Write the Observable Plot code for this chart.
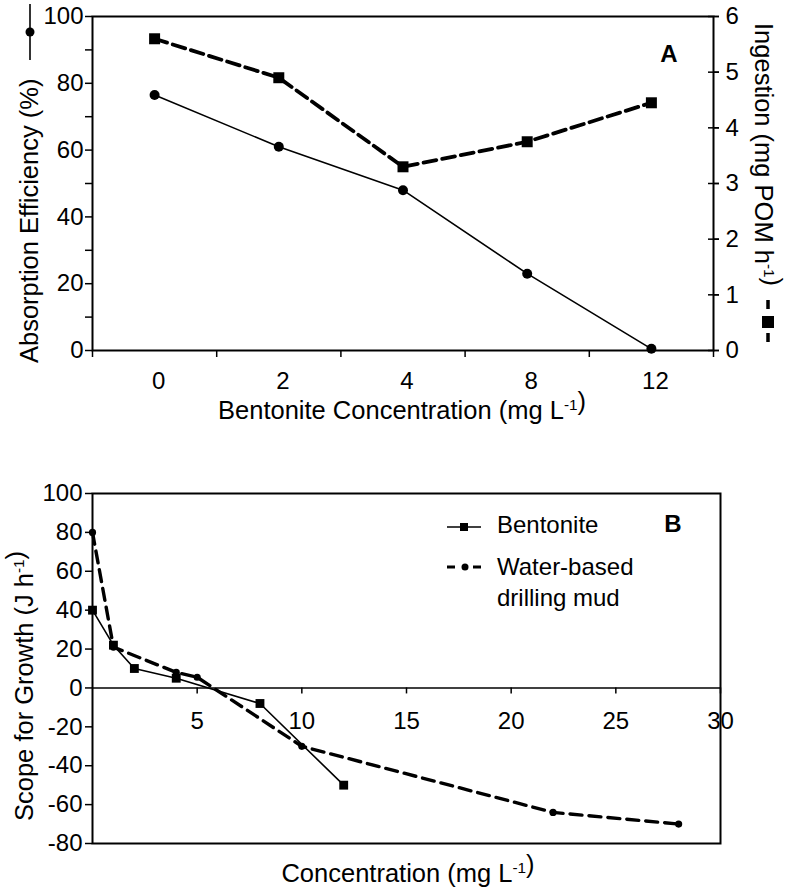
<!DOCTYPE html>
<html><head><meta charset="utf-8">
<script src="https://cdn.jsdelivr.net/npm/d3@7"></script>
<script src="https://cdn.jsdelivr.net/npm/@observablehq/plot@0.6"></script>
<style>
body{margin:0;background:#fff;width:786px;height:890px;position:relative;overflow:hidden;font-family:"Liberation Sans",Arial,sans-serif}
#a{position:absolute;left:0;top:0}
#b{position:absolute;left:0;top:430px}
svg{overflow:visible}
</style></head><body><div id="a"></div><div id="b"></div>
<script>
// ---------- Panel A data ----------
const concA = ["0", "2", "4", "8", "12"];           // bentonite concentration (mg/L), categorical
const absorptionA = [76.5, 61, 48, 23, 0.5];         // absorption efficiency (%)
const ingestionA = [5.6, 4.9, 3.3, 3.75, 4.45];      // ingestion (mg POM/h)
const yTicksA = [0, 20, 40, 60, 80, 100];
const yMinorA = [10, 30, 50, 70, 90];
const ingTicksA = [0, 1, 2, 3, 4, 5, 6];

// ---------- Panel B data ----------
const bentX = [0, 1, 2, 4, 8, 12];
const bentY = [40, 22, 10, 5, -8, -50];
const mudX = [0, 1, 4, 5, 10, 22, 28];
const mudY = [80, 21, 8, 5.5, -30, -64, -70];
const yTicksB = [-80, -60, -40, -20, 0, 20, 40, 60, 80, 100];
const xTicksB = [5, 10, 15, 20, 25, 30];

const W = 786, FS = 24, TS = 25.5;
const FONT = "Liberation Sans, Arial, sans-serif";
const ABS_MAX = 100, ING_MAX = 6;
const ingToLeft = v => v * ABS_MAX / ING_MAX;

const rowsA = concA.map((c, i) => ({i, c, abs: absorptionA[i], ing: ingestionA[i]}));

const plotA = Plot.plot({
  width: W, height: 430,
  marginLeft: 92, marginRight: 73, marginTop: 16, marginBottom: 80,
  style: {fontFamily: FONT, fontSize: FS + "px", color: "#000", background: "#fff"},
  x: {domain: [-0.5, concA.length - 0.5]},
  y: {domain: [0, ABS_MAX]},
  marks: [
    Plot.frame({stroke: "#000", strokeWidth: 2}),
    Plot.axisY({ticks: yTicksA, tickSize: 7, tickPadding: 2, tickFormat: d => String(d), label: null, strokeWidth: 1.5}),
    Plot.axisY({ticks: yMinorA, tickSize: 7, tickFormat: () => "", label: null, strokeWidth: 1.5}),
    Plot.axisY({anchor: "right", ticks: ingTicksA.map(ingToLeft), tickFormat: v => String(Math.round(v * ING_MAX / ABS_MAX)),
                tickSize: 5, tickPadding: 7, label: null, strokeWidth: 1.5}),
    Plot.axisY({anchor: "right", ticks: ingTicksA.map(ingToLeft), tickFormat: () => "", tickSize: 11, dx: -6, label: null, strokeWidth: 1.5}),
    Plot.axisX({ticks: d3.range(concA.length + 1).map(k => k - 0.5), tickSize: 7, tickFormat: () => "", label: null, strokeWidth: 1.5}),
    Plot.axisX({ticks: rowsA.map(d => d.i), tickFormat: i => concA[i], tickSize: 0, tickPadding: 21, dx: 4, label: null}),
    Plot.line(rowsA, {x: "i", y: "abs", stroke: "#000", strokeWidth: 1.6}),
    Plot.dot(rowsA, {x: "i", y: "abs", r: 5, fill: "#000"}),
    Plot.line(rowsA, {x: "i", y: d => ingToLeft(d.ing), stroke: "#000", strokeWidth: 3.8, strokeDasharray: "13,6"}),
    Plot.dot(rowsA, {x: "i", y: d => ingToLeft(d.ing), symbol: "square", r: 6.2, fill: "#000"})
  ]
});
document.getElementById("a").append(plotA);

const rowsBent = bentX.map((x, i) => ({x, y: bentY[i]}));
const rowsMud = mudX.map((x, i) => ({x, y: mudY[i]}));
const HB = 460, MTB = 63, MBB = 47;
const yDomB = [-80, 100];
const zeroShift = -((0 - yDomB[0]) / (yDomB[1] - yDomB[0])) * (HB - MTB - MBB);

const plotB = Plot.plot({
  width: W, height: HB,
  marginLeft: 92, marginRight: 66, marginTop: MTB, marginBottom: MBB,
  style: {fontFamily: FONT, fontSize: FS + "px", color: "#000", background: "#fff"},
  x: {domain: [0, 30]},
  y: {domain: yDomB},
  marks: [
    Plot.frame({stroke: "#000", strokeWidth: 2}),
    Plot.ruleY([0], {stroke: "#000", strokeWidth: 1.6}),
    Plot.axisY({ticks: yTicksB, tickSize: 7, tickPadding: 3, tickFormat: d => String(d), label: null, strokeWidth: 1.5}),
    Plot.axisX({ticks: xTicksB, tickSize: 6, tickPadding: 18, dy: zeroShift, label: null, strokeWidth: 1.5}),
    Plot.line(rowsMud, {x: "x", y: "y", stroke: "#000", strokeWidth: 3.4, strokeDasharray: "12,7"}),
    Plot.dot(rowsMud, {x: "x", y: "y", r: 3.6, fill: "#000"}),
    Plot.line(rowsBent, {x: "x", y: "y", stroke: "#000", strokeWidth: 1.6}),
    Plot.dot(rowsBent, {x: "x", y: "y", symbol: "square", r: 5, fill: "#000"})
  ]
});
document.getElementById("b").append(plotB);

// ---------- titles, labels and legend glyphs ----------
function addText(svg, {x, y, parts, rotate = 0, anchor = "start", weight = "normal", size = TS}) {
  const t = d3.select(svg).append("text")
    .attr("transform", `translate(${x},${y}) rotate(${rotate})`)
    .attr("text-anchor", anchor)
    .attr("font-family", FONT).attr("font-size", size).attr("font-weight", weight)
    .attr("fill", "#000");
  for (const p of parts) {
    if (typeof p === "string") t.append("tspan").text(p);
    else {
      t.append("tspan").attr("font-size", size * 0.6).attr("dy", -size * 0.36).text(p.sup);
      t.append("tspan").attr("dy", size * 0.36).text("");
    }
  }
  return t;
}
const sA = plotA, sB = plotB;
const gA = d3.select(sA), gB = d3.select(sB);

// Panel A
addText(sA, {x: 38, y: 363, rotate: -90, parts: ["Absorption Efficiency (%)"]});
gA.append("line").attr("x1", 30).attr("x2", 30).attr("y1", 4).attr("y2", 60).attr("stroke", "#000").attr("stroke-width", 1.6);
gA.append("circle").attr("cx", 30).attr("cy", 32).attr("r", 4.5).attr("fill", "#000");
addText(sA, {x: 755, y: 23, rotate: 90, parts: ["Ingestion (mg POM h", {sup: "-1"}, ")"]});
gA.append("line").attr("x1", 768).attr("x2", 768).attr("y1", 300).attr("y2", 343).attr("stroke", "#000").attr("stroke-width", 3.5).attr("stroke-dasharray", "9,24");
gA.append("rect").attr("x", 762).attr("y", 316).attr("width", 12).attr("height", 12).attr("fill", "#000");
addText(sA, {x: 402, y: 419, anchor: "middle", parts: ["Bentonite Concentration (mg L", {sup: "-1"}, ")"]});
addText(sA, {x: 669, y: 62, anchor: "middle", weight: "bold", size: FS, parts: ["A"]});

// Panel B
addText(sB, {x: 33, y: 391, rotate: -90, parts: ["Scope for Growth (J h", {sup: "-1"}, ")"]});
addText(sB, {x: 408, y: 452, anchor: "middle", parts: ["Concentration (mg L", {sup: "-1"}, ")"]});
addText(sB, {x: 673, y: 102, anchor: "middle", weight: "bold", size: FS, parts: ["B"]});
gB.append("line").attr("x1", 447).attr("x2", 481).attr("y1", 97).attr("y2", 97).attr("stroke", "#000").attr("stroke-width", 1.6);
gB.append("rect").attr("x", 460).attr("y", 93).attr("width", 8).attr("height", 8).attr("fill", "#000");
addText(sB, {x: 497, y: 103, size: FS, parts: ["Bentonite"]});
gB.append("line").attr("x1", 447).attr("x2", 481).attr("y1", 137).attr("y2", 137).attr("stroke", "#000").attr("stroke-width", 3.2).attr("stroke-dasharray", "8,18");
gB.append("circle").attr("cx", 465).attr("cy", 137).attr("r", 3.5).attr("fill", "#000");
addText(sB, {x: 497, y: 145, size: FS, parts: ["Water-based"]});
addText(sB, {x: 497, y: 176, size: FS, parts: ["drilling mud"]});
</script></body></html>
